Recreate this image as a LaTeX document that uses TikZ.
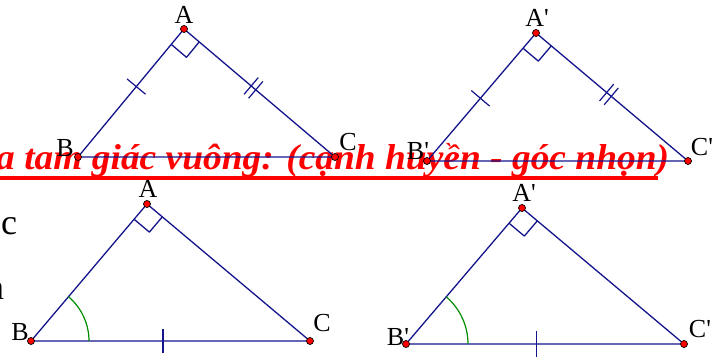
\documentclass[tikz,border=0pt]{standalone}
\usepackage{fontspec}
\setmainfont{Liberation Serif}
\usetikzlibrary{calc,angles}
\definecolor{navyline}{RGB}{20,20,140}
\definecolor{arcgreen}{RGB}{0,140,0}
\definecolor{redtext}{RGB}{255,0,0}
\tikzset{
  side/.style={draw=navyline, line width=1.3pt, line join=round},
  tickline/.style={draw=navyline, line width=1.2pt},
  ptdot/.style={circle, fill=red, draw=black, line width=0.7pt, inner sep=0pt, minimum size=7pt},
  lbl/.style={font=\fontsize{26}{26}\selectfont, inner sep=0pt},
  bigtxt/.style={font=\fontsize{36}{36}\selectfont, inner sep=0pt, anchor=base west},
  angarc/.style={draw=arcgreen, line width=1.2pt, angle radius=58pt},
}
\begin{document}
\begin{tikzpicture}[x=1pt,y=1pt]
\useasboundingbox (0,0) rectangle (720,358);
\clip (0,0) rectangle (720,358);
% left margin fragments
\node[bigtxt] (fragc) at (1,123) {c};
\node[bigtxt] (fragn) at (-14,58) {n};
% red title
\node[anchor=base west, text=redtext, inner sep=0pt,
  font=\fontsize{36}{36}\selectfont\bfseries\itshape] (title) at (-4,188)
  {\scalebox{1.04}[1]{a tam giác vuông: (cạnh huyền - góc nhọn)}};
\fill[redtext] (0,177.5) rectangle (658,182);
% coordinates
\coordinate (A1) at (184,329); \coordinate (B1) at (78,201); \coordinate (C1) at (335,201);
\coordinate (A2) at (536,325); \coordinate (B2) at (427,197); \coordinate (C2) at (688,197);
\coordinate (A3) at (147,154); \coordinate (B3) at (31,17); \coordinate (C3) at (310,17);
\coordinate (A4) at (522,150); \coordinate (B4) at (406,14); \coordinate (C4) at (684,14);
% triangles
\foreach \i in {1,2,3,4}{
  \draw[side] (A\i) -- (B\i) -- (C\i) -- cycle;
  \coordinate (Ab\i) at ($(A\i)!20pt!(B\i)$);
  \coordinate (Ac\i) at ($(A\i)!20pt!(C\i)$);
  \draw[side] (Ab\i) -- ($(Ab\i)+(Ac\i)-(A\i)$) -- (Ac\i);
}
% ticks top triangles
\coordinate (M1) at ($(A1)!0.45!(B1)$);
\draw[tickline] ($(M1)!12pt!90:(B1)$) -- ($(M1)!12pt!-90:(B1)$);
\coordinate (N1) at ($(A1)!0.46!(C1)$);
\draw[tickline] ($(N1)!3pt!(C1)!11pt!90:(C1)$) -- ($(N1)!3pt!(C1)!11pt!-90:(C1)$);
\draw[tickline] ($(N1)!-3pt!(C1)!11pt!90:(C1)$) -- ($(N1)!-3pt!(C1)!11pt!-90:(C1)$);
\coordinate (M2) at ($(A2)!0.51!(B2)$);
\draw[tickline] ($(M2)!12pt!90:(B2)$) -- ($(M2)!12pt!-90:(B2)$);
\coordinate (N2) at ($(A2)!0.48!(C2)$);
\draw[tickline] ($(N2)!3pt!(C2)!11pt!90:(C2)$) -- ($(N2)!3pt!(C2)!11pt!-90:(C2)$);
\draw[tickline] ($(N2)!-3pt!(C2)!11pt!90:(C2)$) -- ($(N2)!-3pt!(C2)!11pt!-90:(C2)$);
% ticks bottom triangles
\coordinate (M3) at ($(B3)!0.473!(C3)$);
\draw[tickline] ($(M3)!12pt!90:(C3)$) -- ($(M3)!12pt!-90:(C3)$);
\coordinate (M4) at ($(B4)!0.468!(C4)$);
\draw[tickline] ($(M4)!13pt!90:(C4)$) -- ($(M4)!13pt!-90:(C4)$);
% angle arcs
\pic[angarc] {angle=C3--B3--A3};
\pic[angarc, angle radius=62pt] {angle=C4--B4--A4};
% dots
\foreach \i in {1,2,3,4}{
  \node[ptdot] (dA\i) at (A\i) {};
  \node[ptdot] (dB\i) at (B\i) {};
  \node[ptdot] (dC\i) at (C\i) {};
}
% labels
\node[lbl] (lA1) at (184,343) {A};
\node[lbl] (lB1) at (65,210) {B};
\node[lbl] (lC1) at (348,216) {C};
\node[lbl] (lA2) at (537,340) {A\textquotesingle};
\node[lbl] (lB2) at (418,207) {B\textquotesingle};
\node[lbl] (lC2) at (702,211) {C\textquotesingle};
\node[lbl] (lA3) at (148,169) {A};
\node[lbl] (lB3) at (20,26) {B};
\node[lbl] (lC3) at (322,35) {C};
\node[lbl] (lA4) at (524,165) {A\textquotesingle};
\node[lbl] (lB4) at (398,21) {B\textquotesingle};
\node[lbl] (lC4) at (700,29) {C\textquotesingle};
\end{tikzpicture}
\end{document}
